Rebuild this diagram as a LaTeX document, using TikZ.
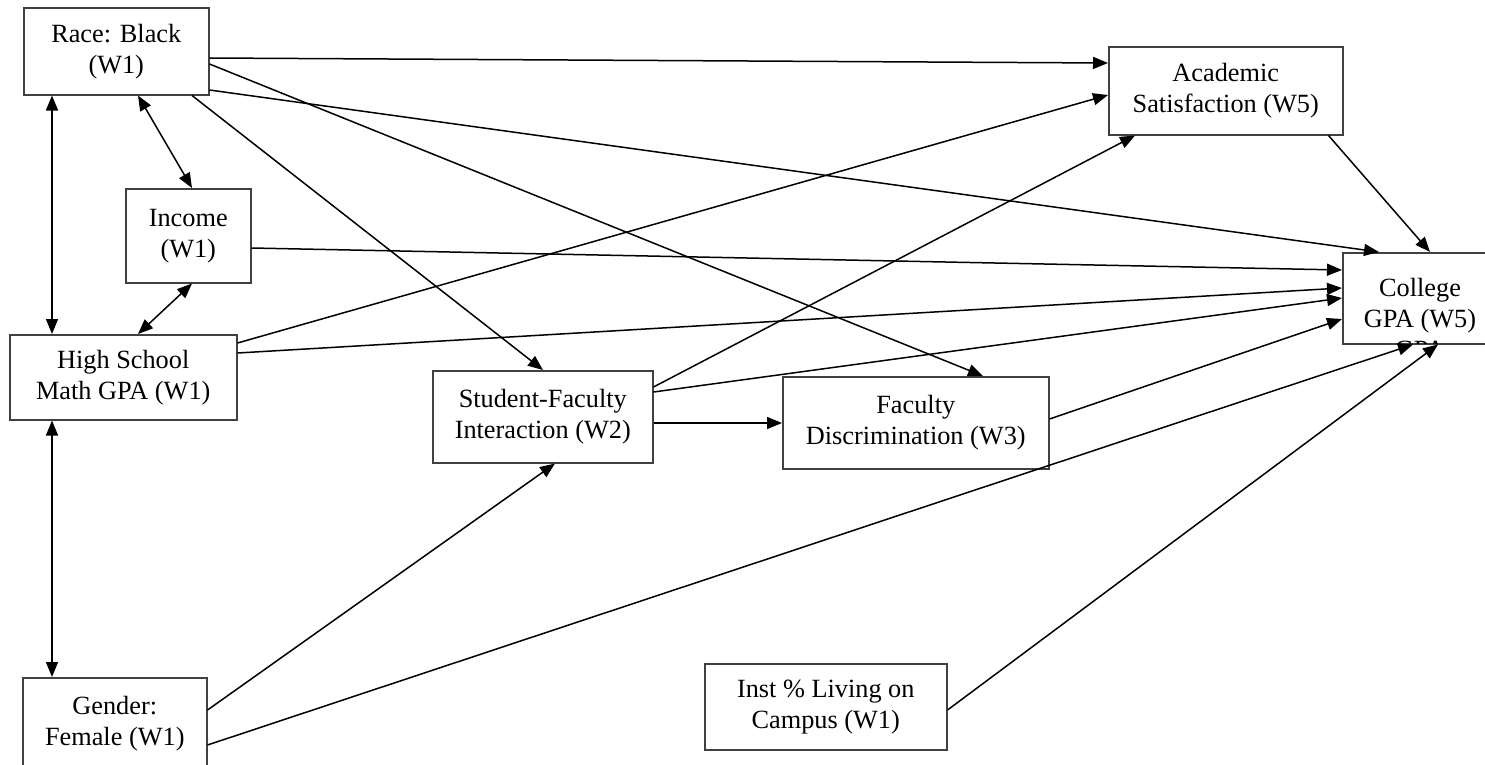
\documentclass[tikz,border=0pt]{standalone}
\usepackage{fontspec}
\setmainfont{Liberation Serif}
\usetikzlibrary{arrows.meta,calc}
\begin{document}
\begin{tikzpicture}[x=1pt,y=-1pt,
  txt/.style={align=center,font=\fontsize{26.3}{31}\selectfont},
  box/.style={txt,draw=black!75,line width=1.5pt,fill=white,rectangle,inner sep=0pt,anchor=north west},
  conn/.style={line width=1.5pt,-{Triangle[length=15pt,width=12pt]}},
  both/.style={line width=1.5pt,{Triangle[length=15pt,width=12pt]}-{Triangle[length=15pt,width=12pt]}}]
\useasboundingbox (0,0) rectangle (1485,764);
% nodes
\node[box,minimum width=185pt,minimum height=87pt] (race) at (23,7) {Race: Black\\(W1)};
\node[box,minimum width=125pt,minimum height=94pt] (income) at (125,188) {Income\\(W1)};
\node[box,minimum width=227pt,minimum height=85pt] (hs) at (9,334) {High School\\Math GPA (W1)};
\node[box,minimum width=184pt,minimum height=92pt] (gender) at (22,677) {Gender:\\Female (W1)};
\node[box,minimum width=220pt,minimum height=92pt] (sfi) at (432,370) {Student-Faculty\\Interaction (W2)};
\node[box,minimum width=266pt,minimum height=92pt] (fd) at (782,376) {Faculty\\Discrimination (W3)};
\node[box,minimum width=234pt,minimum height=88pt] (acad) at (1108,46) {Academic\\Satisfaction (W5)};
\node[box,minimum width=242pt,minimum height=86pt] (inst) at (704,663) {Inst \% Living on\\Campus (W1)};
\node[box,minimum width=156pt,minimum height=91pt] (gpa) at (1342,252) {};
\begin{scope}
  \clip ($(gpa.north west)+(0.8,0.8)$) rectangle ($(gpa.south east)+(-0.8,-0.8)$);
  \node[txt,anchor=center] (gpatext) at (1420,318) {College\\GPA (W5)\\GPA};
\end{scope}
% correlations
\draw[both] ($(race.south west)+(29,0)$) -- ($(hs.north west)+(43,0)$);
\draw[both] ($(race.south west)+(115,0)$) -- ($(income.north west)+(67,0)$);
\draw[both] ($(income.south west)+(67,0)$) -- ($(hs.north west)+(129,0)$);
\draw[both] ($(hs.south west)+(43,0)$) -- ($(gender.north west)+(30,0)$);
% paths
\draw[conn] ($(race.north east)+(0,51)$) -- ($(acad.north west)+(0,17)$);
\draw[conn] ($(race.north east)+(0,57)$) -- ($(fd.north west)+(201,0)$);
\draw[conn] ($(race.north east)+(0,83)$) -- ($(gpa.north west)+(37,0)$);
\draw[conn] ($(race.south west)+(169,0)$) -- ($(sfi.north west)+(111,0)$);
\draw[conn] ($(income.north east)+(0,60)$) -- ($(gpa.north west)+(0,18)$);
\draw[conn] ($(hs.north east)+(0,9)$) -- ($(acad.north west)+(0,49)$);
\draw[conn] ($(hs.north east)+(0,19)$) -- ($(gpa.north west)+(0,36)$);
\draw[conn] ($(sfi.north east)+(0,17)$) -- ($(acad.south west)+(27,0)$);
\draw[conn] ($(sfi.north east)+(0,22)$) -- ($(gpa.north west)+(0,46)$);
\draw[conn] ($(sfi.north east)+(0,53)$) -- ($(fd.north west)+(0,47)$);
\draw[conn] ($(fd.north east)+(0,43)$) -- ($(gpa.north west)+(0,67)$);
\draw[conn] ($(acad.south east)+(-15,0)$) -- ($(gpa.north west)+(88,0)$);
\draw[conn] ($(gender.north east)+(0,33)$) -- ($(sfi.south west)+(123,0)$);
\draw[conn] ($(gender.north east)+(0,68)$) -- ($(gpa.south west)+(71,0)$);
\draw[conn] ($(inst.north east)+(0,47)$) -- ($(gpa.south west)+(96,0)$);
\end{tikzpicture}
\end{document}
